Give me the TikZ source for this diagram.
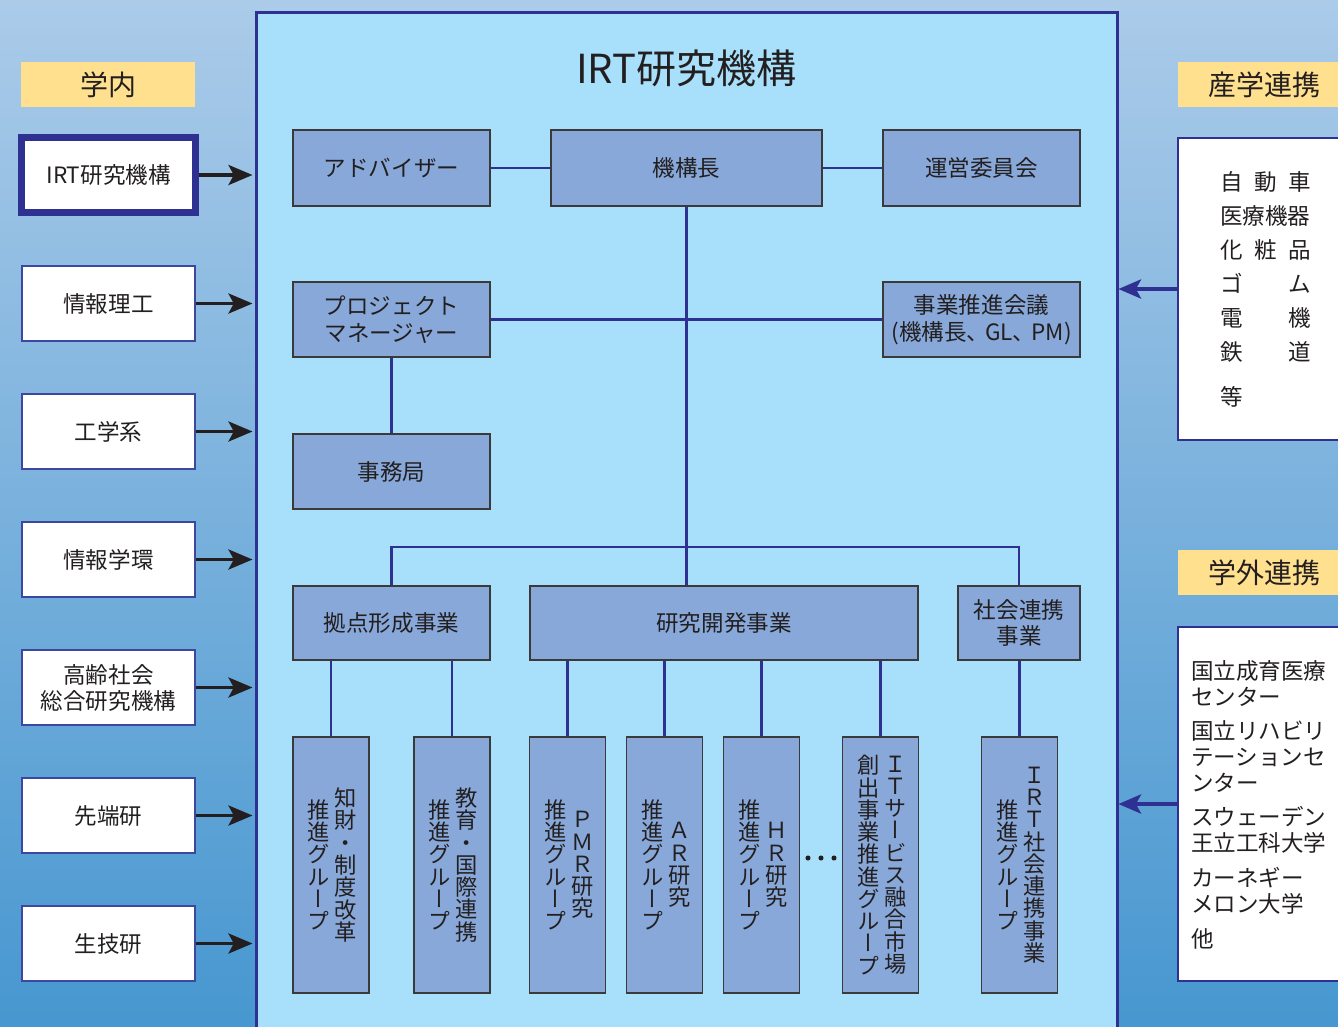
\documentclass[tikz,border=0pt]{standalone}
\usepackage{fontspec}
\setmainfont{Noto Sans CJK JP}
\newfontfamily\jpv[RawFeature=+vert]{Noto Sans CJK JP}
\usetikzlibrary{arrows.meta}
\definecolor{bgtop}{HTML}{ABCBE9}
\definecolor{bgbot}{HTML}{4797D0}
\definecolor{framefill}{HTML}{A8DFFA}
\definecolor{navy}{HTML}{2E3192}
\definecolor{boxfill}{HTML}{87A8D8}
\definecolor{boxline}{HTML}{3A3A3A}
\definecolor{yel}{HTML}{FFE08F}
\definecolor{wline}{HTML}{3B47A0}
\definecolor{ink}{HTML}{231F20}
\newcommand\fsz[2]{\fontsize{#1}{#2}\selectfont}
\tikzset{
  ibox/.style={draw=boxline, fill=boxfill, line width=1.1pt, inner sep=0pt, align=center, text=ink, font=\fsz{16.9pt}{20pt}},
  wbox/.style={draw=wline, fill=white, line width=1.3pt, inner sep=0pt, align=center, text=ink, font=\fsz{16.9pt}{19.5pt}, minimum width=129.75pt, minimum height=56.25pt},
  rbox/.style={draw=navy, fill=white, line width=1.8pt, inner sep=0pt, minimum width=129pt},
  ybox/.style={fill=yel, inner sep=0pt, text=ink, font=\fsz{21pt}{24pt}, minimum height=33.75pt},
  conn/.style={draw=navy, line width=2.2pt},
  karrow/.style={draw=ink, line width=2.6pt, -{Stealth[length=18pt,width=15pt,inset=4pt]}},
  barrow/.style={draw=navy, line width=2.3pt, -{Stealth[length=17pt,width=14.5pt,inset=4pt]}},
  vbox/.style={ibox, minimum width=57pt, minimum height=192pt},
  vtext/.style={font=\jpv\fsz{16.7pt}{16.7pt}, align=center, inner sep=0pt, text=ink},
  ptext/.style={inner sep=0pt, text=ink, font=\fsz{16.9pt}{19.5pt}, align=left, anchor=west},
}
\begin{document}
\begin{tikzpicture}[x=0.75pt,y=-0.75pt]
\useasboundingbox (0,0) rectangle (1338,1026);
\clip (0,0) rectangle (1338,1026);
\shade[top color=bgtop, bottom color=bgbot] (0,0) rectangle (1338,1026);

% main frame
\node[draw=navy, fill=framefill, line width=2.25pt, inner sep=0pt, minimum width=645.75pt, minimum height=771pt] (frame) at (686.5,526) {};
\node[inner sep=0pt, text=ink, font=\fsz{30pt}{34pt}] (title) at (686.5,68) {IRT研究機構};

% left column
\node[ybox, minimum width=130.5pt] (gakunai) at (108,84.5) {学内};
\node[wbox, draw=navy, line width=5.25pt, minimum width=130.5pt] (irt) at (108.5,175) {IRT研究機構};
\node[wbox] (jouhou) at (108.5,303.5) {情報理工};
\node[wbox] (kougaku) at (108.5,431.5) {工学系};
\node[wbox] (gakkan) at (108.5,559.5) {情報学環};
\node[wbox] (kourei) at (108.5,687.5) {高齢社会\\総合研究機構};
\node[wbox] (sentan) at (108.5,815.5) {先端研};
\node[wbox] (seigi) at (108.5,943.5) {生技研};
\foreach \b in {irt,jouhou,kougaku,gakkan,kourei,sentan,seigi}
  \draw[karrow, shorten >=1.5pt] (\b.east) -- (\b.east -| frame.west);

% right column
\node[ybox, minimum width=129pt] (sangakuh) at (1264,84.5) {産学連携};
\node[rbox, minimum height=226.5pt] (sangaku) at (1264,289) {};
\node[ybox, minimum width=129pt] (gakugaih) at (1264,572.5) {学外連携};
\node[rbox, minimum height=265.5pt] (gakugai) at (1264,804) {};
\draw[barrow] (sangaku.west) -- (sangaku.west -| frame.east);
\draw[barrow] (gakugai.west) -- (gakugai.west -| frame.east);

\node[ptext] (s1) at (1220,182) {自\kern8.6pt 動\kern8.6pt 車};
\node[ptext] (s2) at (1220,216) {医療機器};
\node[ptext] (s3) at (1220,250) {化\kern8.6pt 粧\kern8.6pt 品};
\node[ptext] (s4) at (1220,284) {ゴ\kern8.6pt \phantom{動}\kern8.6pt ム};
\node[ptext] (s5) at (1220,318) {電\kern8.6pt \phantom{動}\kern8.6pt 機};
\node[ptext] (s6) at (1220,352) {鉄\kern8.6pt \phantom{動}\kern8.6pt 道};
\node[ptext] (s7) at (1220,397) {等};

\node[ptext] (e1) at (1191,684) {国立成育医療\\センター};
\node[ptext] (e2) at (1191,757) {国立リハビリ\\テーションセ\\ンター};
\node[ptext] (e3) at (1191,830) {スウェーデン\\王立工科大学};
\node[ptext] (e4) at (1191,890.5) {カーネギー\\メロン大学};
\node[ptext] (e5) at (1191,939) {他};

% inner boxes
\node[ibox, minimum width=147.75pt, minimum height=57pt] (adv) at (391.5,168) {アドバイザー};
\node[ibox, minimum width=203.25pt, minimum height=57pt] (head) at (686.5,168) {機構長};
\node[ibox, minimum width=147.75pt, minimum height=57pt] (unei) at (981.5,168) {運営委員会};
\node[ibox, minimum width=147.75pt, minimum height=56.25pt] (pm) at (391.5,319.5) {プロジェクト\\マネージャー};
\node[ibox, minimum width=147.75pt, minimum height=56.25pt] (council) at (981.5,319.5) {事業推進会議\\(機構長、\kern-3pt GL、\kern-3pt PM)};
\node[ibox, minimum width=147.75pt, minimum height=56.25pt] (jimu) at (391.5,471.5) {事務局};
\node[ibox, minimum width=147.75pt, minimum height=55.5pt] (kyoten) at (391.5,623) {拠点形成事業};
\node[ibox, minimum width=291pt, minimum height=55.5pt] (rd) at (724,623) {研究開発事業};
\node[ibox, minimum width=91.5pt, minimum height=55.5pt] (social) at (1019,623) {社会連携\\事業};

% vertical boxes
\node[vbox] (g1) at (331,865) {};
\node[vbox] (g2) at (452,865) {};
\node[vbox] (g3) at (567.5,865) {};
\node[vbox] (g4) at (664.5,865) {};
\node[vbox] (g5) at (761.5,865) {};
\node[vbox] (g6) at (880.5,865) {};
\node[vbox] (g7) at (1019.5,865) {};

\node[vtext] (g1a) at (346,865) {知\\財\\・\\制\\度\\改\\革};
\node[vtext] (g1b) at (319,865) {推\\進\\グ\\ル\\ー\\プ};
\node[vtext] (g2a) at (467,865) {教\\育\\・\\国\\際\\連\\携};
\node[vtext] (g2b) at (440,865) {推\\進\\グ\\ル\\ー\\プ};
\node[vtext] (g3a) at (582.5,865) {Ｐ\\Ｍ\\Ｒ\\研\\究};
\node[vtext] (g3b) at (555.5,865) {推\\進\\グ\\ル\\ー\\プ};
\node[vtext] (g4a) at (679.5,865) {Ａ\\Ｒ\\研\\究};
\node[vtext] (g4b) at (652.5,865) {推\\進\\グ\\ル\\ー\\プ};
\node[vtext] (g5a) at (776.5,865) {Ｈ\\Ｒ\\研\\究};
\node[vtext] (g5b) at (749.5,865) {推\\進\\グ\\ル\\ー\\プ};
\node[vtext] (g6a) at (896,865) {Ｉ\\Ｔ\\サ\\ー\\ビ\\ス\\融\\合\\市\\場};
\node[vtext] (g6b) at (869,865) {創\\出\\事\\業\\推\\進\\グ\\ル\\ー\\プ};
\node[vtext] (g7a) at (1034.5,865) {Ｉ\\Ｒ\\Ｔ\\社\\会\\連\\携\\事\\業};
\node[vtext] (g7b) at (1007.5,865) {推\\進\\グ\\ル\\ー\\プ};

% dots
\foreach \dx in {808,821,834} \fill[ink] (\dx,858) circle[radius=1.9pt];

% connectors
\coordinate (bary) at (0,547);
\draw[conn] (adv.east) -- (head.west);
\draw[conn] (head.east) -- (unei.west);
\draw[conn] (head.south) -- (head.south |- rd.north);
\draw[conn] (pm.east) -- (council.west);
\draw[conn] (pm.south) -- (jimu.north);
\draw[conn] (kyoten.north) -- (kyoten.north |- bary) -| (social.north);
\foreach \g in {g1,g2} \draw[conn] (\g.north) -- (\g.north |- kyoten.south);
\foreach \g in {g3,g4,g5,g6} \draw[conn] (\g.north) -- (\g.north |- rd.south);
\draw[conn] (g7.north) -- (g7.north |- social.south);
\end{tikzpicture}
\end{document}
